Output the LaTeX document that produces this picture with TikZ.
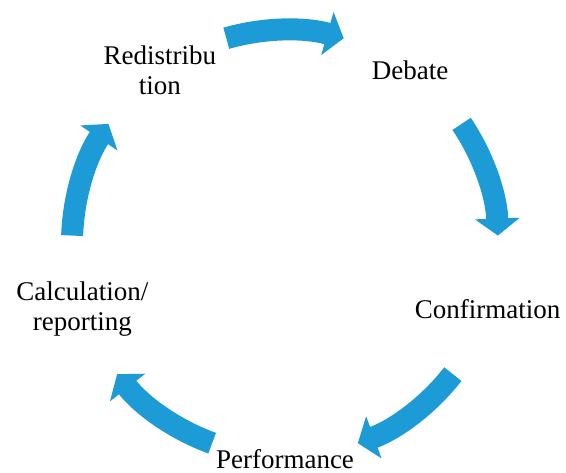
\documentclass[tikz,border=0pt]{standalone}
\usepackage{fontspec}
\setmainfont{Liberation Serif}
\usetikzlibrary{arrows.meta}
\definecolor{cycleblue}{RGB}{29,155,214}
\tikzset{
    stage/.style={align=center, inner sep=0pt, font=\fontsize{13.5}{15}\selectfont},
    flow/.style={draw=cycleblue, line width=11pt, -{Triangle[width=22pt,length=8.5pt]}}
}

\begin{document}
\begin{tikzpicture}[x=0.5pt,y=0.5pt]
    \useasboundingbox (0,0) rectangle (566,472);
    \begin{scope}[shift={(285,229)}]
        % stages round the circle
        \node[stage] (redis) at (126:213) {Redistribu\\tion};
        \node[stage] (debate) at (54:213) {Debate};
        \node[stage] (confirm) at (-18:213) {Confirmation};
        \node[stage] (perf) at (-90:216) {Performance};
        \node[stage] (calc) at (198:213) {Calculation/\\reporting};
        % arrows between them
        \foreach \a/\n in {90/1,18/2,-54/3,-126/4,-198/5}{
            \coordinate (s\n) at ({\a+16}:213);
            \draw[flow] (s\n) arc[start angle=\a+16, end angle=\a-16, radius=106.5pt];
        }
    \end{scope}
\end{tikzpicture}
\end{document}
